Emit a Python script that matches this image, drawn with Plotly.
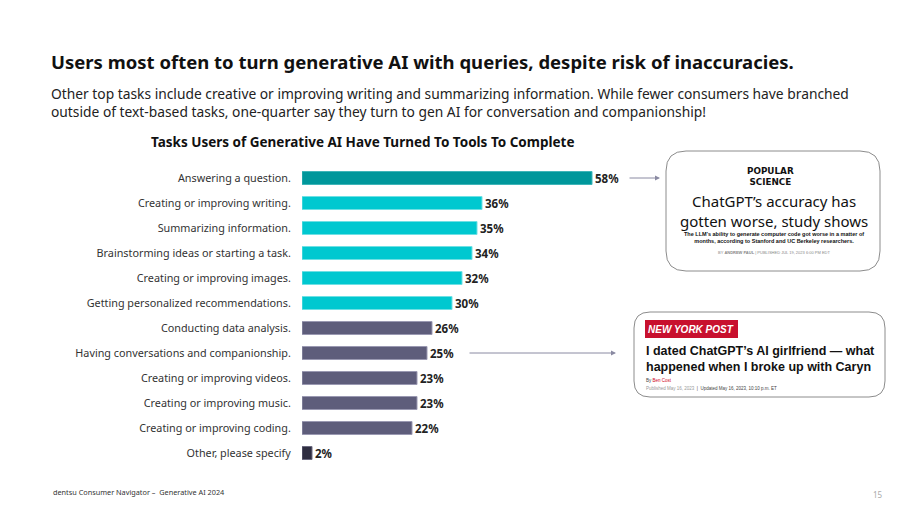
import plotly.graph_objects as go

W, H = 920, 518

categories = [
    "Answering a question.",
    "Creating or improving writing.",
    "Summarizing information.",
    "Brainstorming ideas or starting a task.",
    "Creating or improving images.",
    "Getting personalized recommendations.",
    "Conducting data analysis.",
    "Having conversations and companionship.",
    "Creating or improving videos.",
    "Creating or improving music.",
    "Creating or improving coding.",
    "Other, please specify",
]
values = [58, 36, 35, 34, 32, 30, 26, 25, 23, 23, 22, 2]
bar_colors = ["#00979B"] + ["#00C8D0"] * 5 + ["#5E5D7B"] * 5 + ["#2E2D40"]
line_colors = ["#3FB5B8"] + ["#6FE0E4"] * 5 + ["#9A99B2"] * 5 + ["#6C6B80"]

FONT = "Noto Sans"


def px(x):
    return x / W


def py(y):
    return 1 - y / H


def rrect(x0, y0, x1, y1, r):
    X0, X1 = px(x0), px(x1)
    Y0, Y1 = py(y0), py(y1)
    rx, ry = r / W, r / H
    return (f"M {X0+rx} {Y0} L {X1-rx} {Y0} Q {X1} {Y0} {X1} {Y0-ry} "
            f"L {X1} {Y1+ry} Q {X1} {Y1} {X1-rx} {Y1} "
            f"L {X0+rx} {Y1} Q {X0} {Y1} {X0} {Y1+ry} "
            f"L {X0} {Y0-ry} Q {X0} {Y0} {X0+rx} {Y0} Z")


fig = go.Figure()
fig.add_trace(go.Bar(
    y=categories, x=values, orientation="h",
    marker=dict(color=bar_colors, line=dict(color=line_colors, width=1)),
    width=0.52,
    text=[f"<b>{v}%</b>" for v in values],
    textposition="outside",
    constraintext="none",
    textfont=dict(family=FONT, size=11.5, color="#222222"),
    cliponaxis=False,
    hoverinfo="skip",
))

fig.update_layout(
    width=W, height=H,
    margin=dict(l=0, r=0, t=0, b=0),
    paper_bgcolor="white", plot_bgcolor="white",
    showlegend=False,
    font=dict(family=FONT, color="#333333"),
    xaxis=dict(domain=[px(302), px(652)], range=[0, 70], visible=False),
    yaxis=dict(domain=[py(465.5), py(165.5)], range=[11.5, -0.5],
               type="category", showgrid=False, zeroline=False, showline=False,
               ticks="outside", ticklen=8, tickcolor="rgba(0,0,0,0)",
               tickfont=dict(family=FONT, size=10.8, color="#333333")),
)

ann = []
# Title & subtitle
ann.append(dict(x=px(49), y=py(62), xref="paper", yref="paper", xanchor="left", yanchor="middle",
                text="<b>Users most often to turn generative AI with queries, despite risk of inaccuracies.</b>",
                showarrow=False, font=dict(family=FONT, size=18.5, color="#111111")))
ann.append(dict(x=px(49), y=py(103), xref="paper", yref="paper", xanchor="left", yanchor="middle", align="left",
                text="Other top tasks include creative or improving writing and summarizing information. While fewer consumers have branched<br>"
                     "outside of text-based tasks, one-quarter say they turn to gen AI for conversation and companionship!",
                showarrow=False, font=dict(family=FONT, size=13.8, color="#222222")))
ann.append(dict(x=px(362), y=py(142), xref="paper", yref="paper", xanchor="center", yanchor="middle",
                text="<b>Tasks Users of Generative AI Have Turned To Tools To Complete</b>",
                showarrow=False, font=dict(family=FONT, size=13.5, color="#111111")))
# Footer
ann.append(dict(x=px(51), y=py(492), xref="paper", yref="paper", xanchor="left", yanchor="middle",
                text="dentsu Consumer Navigator –  Generative AI 2024",
                showarrow=False, font=dict(family=FONT, size=7.3, color="#333333")))
ann.append(dict(x=px(878), y=py(494), xref="paper", yref="paper", xanchor="center", yanchor="middle",
                text="15", showarrow=False, font=dict(family=FONT, size=8, color="#AAAAAA")))

# Arrows
ann.append(dict(x=px(660), y=py(178), xref="paper", yref="paper", ax=-32, ay=0,
                text="", showarrow=True, arrowhead=2, arrowsize=1, arrowwidth=1, arrowcolor="#8A8AA2"))
ann.append(dict(x=px(616), y=py(353), xref="paper", yref="paper", ax=-148, ay=0,
                text="", showarrow=True, arrowhead=2, arrowsize=1, arrowwidth=1, arrowcolor="#8A8AA2"))

# Callout 1: Popular Science
ann.append(dict(x=px(770), y=py(176.5), xref="paper", yref="paper", xanchor="center", yanchor="middle",
                text="<b>POPULAR<br>SCIENCE</b>", showarrow=False,
                font=dict(family="DejaVu Sans", size=8.8, color="#111111"), align="center"))
ann.append(dict(x=px(774), y=py(211), xref="paper", yref="paper", xanchor="center", yanchor="middle",
                text="ChatGPT’s accuracy has<br>gotten worse, study shows", showarrow=False,
                font=dict(family="Noto Sans", size=15, color="#111111"), align="center"))
ann.append(dict(x=px(774), y=py(237), xref="paper", yref="paper", xanchor="center", yanchor="middle",
                text="<b>The LLM’s ability to generate computer code got worse in a matter of<br>months, according to Stanford and UC Berkeley researchers.</b>",
                showarrow=False, font=dict(family="Liberation Sans", size=5.5, color="#111111"), align="center"))
ann.append(dict(x=px(774), y=py(252), xref="paper", yref="paper", xanchor="center", yanchor="middle",
                text="BY <b>ANDREW PAUL</b> | PUBLISHED JUL 19, 2023 6:00 PM EDT",
                showarrow=False, font=dict(family="Liberation Sans", size=4, color="#888888")))

# Callout 2: New York Post
ann.append(dict(x=px(691), y=py(329), xref="paper", yref="paper", xanchor="center", yanchor="middle",
                text="<b><i>NEW YORK POST</i></b>", showarrow=False,
                font=dict(family="Liberation Sans", size=10, color="white")))
ann.append(dict(x=px(644), y=py(359), xref="paper", yref="paper", xanchor="left", yanchor="middle",
                text="<b>I dated ChatGPT’s AI girlfriend — what<br>happened when I broke up with Caryn</b>",
                showarrow=False, font=dict(family="Liberation Sans", size=12.5, color="#111111"), align="left"))
ann.append(dict(x=px(644), y=py(380), xref="paper", yref="paper", xanchor="left", yanchor="middle",
                text="By <span style='color:#D0021B'>Ben Cost</span>",
                showarrow=False, font=dict(family="Liberation Sans", size=4.5, color="#444444")))
ann.append(dict(x=px(644), y=py(388), xref="paper", yref="paper", xanchor="left", yanchor="middle",
                text="<span style='color:#999999'>Published May 16, 2023</span>  |  Updated May 16, 2023, 10:10 p.m. ET",
                showarrow=False, font=dict(family="Liberation Sans", size=4.5, color="#444444")))

shapes = [
    dict(type="path", xref="paper", yref="paper", path=rrect(666, 151, 880, 271, 20),
         line=dict(color="#8C8C8C", width=1), fillcolor="white", layer="below"),
    dict(type="path", xref="paper", yref="paper", path=rrect(634, 312, 885, 397, 16),
         line=dict(color="#8C8C8C", width=1), fillcolor="white", layer="below"),
    dict(type="rect", xref="paper", yref="paper", x0=px(645), x1=px(738), y0=py(338), y1=py(320),
         line=dict(width=0), fillcolor="#C8102E", layer="below"),
]

fig.update_layout(annotations=ann, shapes=shapes)
fig.write_html("out.html")
